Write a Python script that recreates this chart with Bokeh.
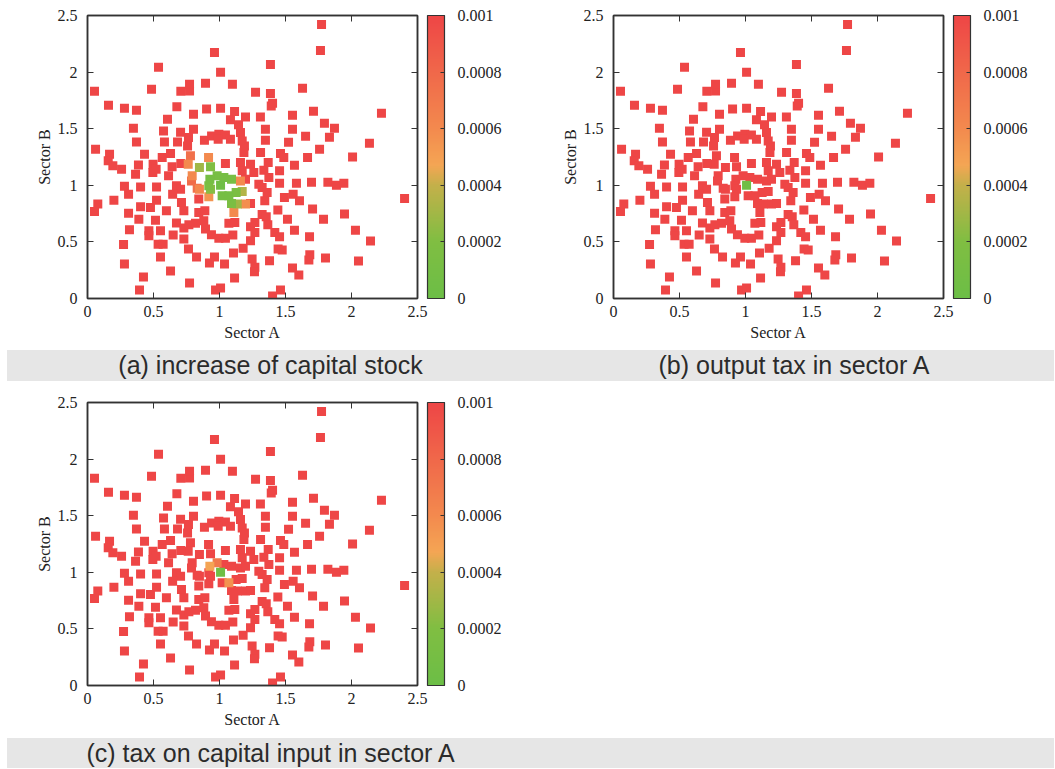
import numpy as np
from bokeh.plotting import figure
from bokeh.models import (LinearColorMapper, ColorBar, FixedTicker, CustomJSTickFormatter,
                          LinearAxis, Range1d, ColumnDataSource, Div)
from bokeh.layouts import column, row
from bokeh.embed import file_html
from bokeh.resources import INLINE

# ---------------- data ----------------
sector_a = [
    0.78, 0.763, 0.917, 0.848, 0.932, 0.793, 0.788, 0.927, 0.982, 1.033,
    1.008, 0.919, 0.932, 0.831, 0.848, 0.919, 1.02, 1.071, 1.091, 1.159,
    1.126, 1.172, 1.091, 1.134, 1.197, 1.109,
    1.773, 1.765, 0.962, 0.538, 1.386, 1.008, 0.053, 0.485, 0.707, 0.773,
    0.773, 0.894, 1.098, 1.273, 1.386, 1.629, 1.392, 1.402, 0.159, 0.28,
    0.371, 0.677, 0.606, 0.803, 0.902, 1.008, 1.114, 1.083, 1.144, 1.197,
    1.31, 1.553, 1.712, 2.227, 1.795, 1.871, 0.348, 0.576, 0.705, 0.803,
    1.348, 1.553, 0.371, 0.583, 0.682, 0.765, 0.758, 0.886, 0.94, 0.995,
    1.045, 1.083, 0.99, 1.159, 1.172, 1.189, 1.185, 1.348, 1.523, 1.652,
    1.833, 1.758, 2.136, 0.061, 0.629, 0.167, 0.157, 0.432, 0.566, 1.159,
    1.235, 1.172, 1.311, 1.462, 1.487, 1.667, 2.008, 0.192, 0.258, 0.386,
    0.364, 0.497, 0.52, 0.495, 0.641, 0.707, 1.045, 1.336, 1.369, 1.455,
    1.568, 0.614, 1.197, 1.26, 1.298, 1.323, 1.374, 1.455, 1.583, 1.697,
    1.821, 1.886, 1.942, 2.402, 0.28, 0.402, 0.523, 0.674, 0.705, 1.235,
    1.361, 1.343, 1.492, 1.558, 1.606, 1.442, 1.705, 1.947, 0.311, 0.2,
    0.078, 0.053, 0.311, 0.402, 0.477, 0.523, 0.598, 0.712, 0.73, 0.843,
    0.843, 0.889, 0.389, 0.515, 0.318, 0.465, 0.465, 0.553, 0.674, 0.649,
    0.73, 0.73, 0.768, 0.818, 0.881, 0.894, 0.939, 0.995, 1.045, 1.071,
    1.116, 1.101, 1.235, 1.268, 1.268, 1.235, 1.323, 1.354, 1.366, 1.419,
    1.455, 1.515, 1.568, 1.682, 1.788, 2.03, 2.144, 0.273, 0.535, 0.573,
    0.765, 1.179, 0.553, 0.826, 0.962, 0.924, 1.038, 1.106, 1.247, 1.268,
    1.265, 1.379, 1.444, 1.475, 1.684, 1.677, 1.803, 2.053, 1.553, 1.601,
    0.28, 0.629, 0.424, 0.773, 1.114, 0.394, 0.97, 1.008, 1.462, 1.402,
    0.645,
]
sector_b = [
    1.26, 1.186, 1.245, 1.157, 1.163, 1.084, 1.039, 1.054, 1.084, 1.069,
    1.001, 0.995, 0.966, 0.975, 0.966, 0.898, 0.907, 0.907, 1.054, 1.039,
    0.936, 0.945, 0.84, 0.834, 0.834, 0.76,
    2.42, 2.19, 2.174, 2.042, 2.068, 1.998, 1.83, 1.848, 1.83, 1.833,
    1.892, 1.901, 1.892, 1.821, 1.812, 1.857, 1.70, 1.725, 1.707, 1.68,
    1.663, 1.693, 1.584, 1.628, 1.675, 1.68, 1.651, 1.578, 1.534, 1.604,
    1.604, 1.619, 1.654, 1.637, 1.549, 1.504, 1.504, 1.48, 1.469, 1.495,
    1.495, 1.495, 1.383, 1.383, 1.383, 1.422, 1.348, 1.398, 1.436, 1.45,
    1.444, 1.407, 1.407, 1.466, 1.392, 1.348, 1.29, 1.398, 1.381, 1.434,
    1.425, 1.319, 1.372, 1.319, 1.28, 1.275, 1.216, 1.275, 1.245, 1.201,
    1.186, 1.128, 1.289, 1.28, 1.245, 1.245, 1.251, 1.172, 1.142, 1.18,
    1.098, 1.186, 1.142, 1.113, 1.163, 1.192, 1.192, 1.133, 1.201, 1.128,
    1.177, 1.084, 1.054, 1.113, 1.01, 0.98, 1.069, 1.019, 1.019, 1.028,
    1.028, 1.001, 1.019, 0.884, 0.992, 0.984, 0.984, 0.995, 0.966, 0.84,
    0.936, 0.863, 0.892, 0.922, 0.863, 0.781, 0.79, 0.746, 0.922, 0.869,
    0.834, 0.769, 0.754, 0.81, 0.804, 0.869, 0.775, 0.848, 0.775, 0.878,
    0.76, 0.775, 0.701, 0.692, 0.607, 0.598, 0.554, 0.598, 0.666, 0.56,
    0.622, 0.525, 0.652, 0.664, 0.686, 0.613, 0.563, 0.533, 0.533, 0.664,
    0.672, 0.56, 0.633, 0.672, 0.584, 0.51, 0.741, 0.722, 0.651, 0.584,
    0.545, 0.701, 0.604, 0.545, 0.701, 0.604, 0.507, 0.477, 0.48, 0.48,
    0.437, 0.445, 0.366, 0.366, 0.366, 0.313, 0.304, 0.401, 0.348, 0.275,
    0.236, 0.334, 0.437, 0.428, 0.387, 0.34, 0.357, 0.331, 0.269, 0.207,
    0.304, 0.242, 0.19, 0.136, 0.181, 0.075, 0.075, 0.092, 0.075, 0.022,
    0.92,
]
inc_capital = [
    0.00075, 0.0006, 0.0006, 0.0003, 0.0002, 0.0006, 0.00078, 0.0001, 0.00012, 0.0001,
    0.00003, 0.00015, 0.00022, 0.00075, 0.00062, 0.00055, 0.0001, 0.0001, 0.00012, 0.0006,
    0.00015, 0.00035, 0.00015, 0.0003, 0.00058, 0.0006,
    0.001, 0.001, 0.001, 0.001, 0.001, 0.001, 0.001, 0.001, 0.001, 0.001,
    0.001, 0.001, 0.001, 0.001, 0.001, 0.001, 0.001, 0.001, 0.001, 0.001,
    0.001, 0.001, 0.001, 0.001, 0.001, 0.001, 0.001, 0.001, 0.001, 0.001,
    0.001, 0.001, 0.001, 0.001, 0.001, 0.001, 0.001, 0.001, 0.001, 0.001,
    0.001, 0.001, 0.001, 0.001, 0.001, 0.001, 0.001, 0.001, 0.001, 0.001,
    0.001, 0.001, 0.001, 0.001, 0.001, 0.001, 0.001, 0.001, 0.001, 0.001,
    0.001, 0.001, 0.001, 0.001, 0.001, 0.001, 0.001, 0.001, 0.001, 0.001,
    0.001, 0.001, 0.001, 0.001, 0.001, 0.001, 0.001, 0.001, 0.001, 0.001,
    0.001, 0.001, 0.001, 0.001, 0.001, 0.001, 0.001, 0.001, 0.001, 0.001,
    0.001, 0.001, 0.001, 0.001, 0.001, 0.001, 0.001, 0.001, 0.001, 0.001,
    0.001, 0.001, 0.001, 0.001, 0.001, 0.001, 0.001, 0.001, 0.001, 0.001,
    0.001, 0.001, 0.001, 0.001, 0.001, 0.001, 0.001, 0.001, 0.001, 0.001,
    0.001, 0.001, 0.001, 0.001, 0.001, 0.001, 0.001, 0.001, 0.001, 0.001,
    0.001, 0.001, 0.001, 0.001, 0.001, 0.001, 0.001, 0.001, 0.001, 0.001,
    0.001, 0.001, 0.001, 0.001, 0.001, 0.001, 0.001, 0.001, 0.001, 0.001,
    0.001, 0.001, 0.001, 0.001, 0.001, 0.001, 0.001, 0.001, 0.001, 0.001,
    0.001, 0.001, 0.001, 0.001, 0.001, 0.001, 0.001, 0.001, 0.001, 0.001,
    0.001, 0.001, 0.001, 0.001, 0.001, 0.001, 0.001, 0.001, 0.001, 0.001,
    0.001, 0.001, 0.001, 0.001, 0.001, 0.001, 0.001, 0.001, 0.001, 0.001,
    0.001, 0.001, 0.001, 0.001, 0.001, 0.001, 0.001, 0.001, 0.001, 0.001,
    0.001,
]
output_tax = [
    0.001, 0.001, 0.001, 0.001, 0.001, 0.001, 0.001, 0.001, 0.001, 0.001,
    0.00003, 0.001, 0.001, 0.001, 0.001, 0.001, 0.001, 0.001, 0.001, 0.001,
    0.001, 0.001, 0.001, 0.001, 0.001, 0.001,
    0.001, 0.001, 0.001, 0.001, 0.001, 0.001, 0.001, 0.001, 0.001, 0.001,
    0.001, 0.001, 0.001, 0.001, 0.001, 0.001, 0.001, 0.001, 0.001, 0.001,
    0.001, 0.001, 0.001, 0.001, 0.001, 0.001, 0.001, 0.001, 0.001, 0.001,
    0.001, 0.001, 0.001, 0.001, 0.001, 0.001, 0.001, 0.001, 0.001, 0.001,
    0.001, 0.001, 0.001, 0.001, 0.001, 0.001, 0.001, 0.001, 0.001, 0.001,
    0.001, 0.001, 0.001, 0.001, 0.001, 0.001, 0.001, 0.001, 0.001, 0.001,
    0.001, 0.001, 0.001, 0.001, 0.001, 0.001, 0.001, 0.001, 0.001, 0.001,
    0.001, 0.001, 0.001, 0.001, 0.001, 0.001, 0.001, 0.001, 0.001, 0.001,
    0.001, 0.001, 0.001, 0.001, 0.001, 0.001, 0.001, 0.001, 0.001, 0.001,
    0.001, 0.001, 0.001, 0.001, 0.001, 0.001, 0.001, 0.001, 0.001, 0.001,
    0.001, 0.001, 0.001, 0.001, 0.001, 0.001, 0.001, 0.001, 0.001, 0.001,
    0.001, 0.001, 0.001, 0.001, 0.001, 0.001, 0.001, 0.001, 0.001, 0.001,
    0.001, 0.001, 0.001, 0.001, 0.001, 0.001, 0.001, 0.001, 0.001, 0.001,
    0.001, 0.001, 0.001, 0.001, 0.001, 0.001, 0.001, 0.001, 0.001, 0.001,
    0.001, 0.001, 0.001, 0.001, 0.001, 0.001, 0.001, 0.001, 0.001, 0.001,
    0.001, 0.001, 0.001, 0.001, 0.001, 0.001, 0.001, 0.001, 0.001, 0.001,
    0.001, 0.001, 0.001, 0.001, 0.001, 0.001, 0.001, 0.001, 0.001, 0.001,
    0.001, 0.001, 0.001, 0.001, 0.001, 0.001, 0.001, 0.001, 0.001, 0.001,
    0.001, 0.001, 0.001, 0.001, 0.001, 0.001, 0.001, 0.001, 0.001, 0.001,
    0.001, 0.001, 0.001, 0.001, 0.001, 0.001, 0.001, 0.001, 0.001, 0.001,
    0.001,
]
capital_tax = [
    0.001, 0.001, 0.001, 0.001, 0.001, 0.001, 0.001, 0.00048, 0.0007, 0.001,
    0.00003, 0.001, 0.001, 0.001, 0.001, 0.001, 0.001, 0.00056, 0.001, 0.001,
    0.001, 0.001, 0.001, 0.001, 0.001, 0.001,
    0.001, 0.001, 0.001, 0.001, 0.001, 0.001, 0.001, 0.001, 0.001, 0.001,
    0.001, 0.001, 0.001, 0.001, 0.001, 0.001, 0.001, 0.001, 0.001, 0.001,
    0.001, 0.001, 0.001, 0.001, 0.001, 0.001, 0.001, 0.001, 0.001, 0.001,
    0.001, 0.001, 0.001, 0.001, 0.001, 0.001, 0.001, 0.001, 0.001, 0.001,
    0.001, 0.001, 0.001, 0.001, 0.001, 0.001, 0.001, 0.001, 0.001, 0.001,
    0.001, 0.001, 0.001, 0.001, 0.001, 0.001, 0.001, 0.001, 0.001, 0.001,
    0.001, 0.001, 0.001, 0.001, 0.001, 0.001, 0.001, 0.001, 0.001, 0.001,
    0.001, 0.001, 0.001, 0.001, 0.001, 0.001, 0.001, 0.001, 0.001, 0.001,
    0.001, 0.001, 0.001, 0.001, 0.001, 0.001, 0.001, 0.001, 0.001, 0.001,
    0.001, 0.001, 0.001, 0.001, 0.001, 0.001, 0.001, 0.001, 0.001, 0.001,
    0.001, 0.001, 0.001, 0.001, 0.001, 0.001, 0.001, 0.001, 0.001, 0.001,
    0.001, 0.001, 0.001, 0.001, 0.001, 0.001, 0.001, 0.001, 0.001, 0.001,
    0.001, 0.001, 0.001, 0.001, 0.001, 0.001, 0.001, 0.001, 0.001, 0.001,
    0.001, 0.001, 0.001, 0.001, 0.001, 0.001, 0.001, 0.001, 0.001, 0.001,
    0.001, 0.001, 0.001, 0.001, 0.001, 0.001, 0.001, 0.001, 0.001, 0.001,
    0.001, 0.001, 0.001, 0.001, 0.001, 0.001, 0.001, 0.001, 0.001, 0.001,
    0.001, 0.001, 0.001, 0.001, 0.001, 0.001, 0.001, 0.001, 0.001, 0.001,
    0.001, 0.001, 0.001, 0.001, 0.001, 0.001, 0.001, 0.001, 0.001, 0.001,
    0.001, 0.001, 0.001, 0.001, 0.001, 0.001, 0.001, 0.001, 0.001, 0.001,
    0.001, 0.001, 0.001, 0.001, 0.001, 0.001, 0.001, 0.001, 0.001, 0.001,
    0.001,
]
captions = ["(a) increase of capital stock", "(b) output tax in sector A",
            "(c) tax on capital input in sector A"]
axis_ticks = [0, 0.5, 1, 1.5, 2, 2.5]
cbar_ticks = [0, 0.0002, 0.0004, 0.0006, 0.0008, 0.001]
x_label = "Sector A"
y_label = "Sector B"

# ---------------- styling ----------------
stops_pos = [0.0, 0.2, 0.4, 0.47, 0.6, 0.8, 1.0]
stops_rgb = [(108, 190, 70), (128, 190, 66), (196, 176, 74), (244, 166, 84),
             (243, 138, 78), (240, 104, 74), (238, 70, 70)]
t = np.linspace(0, 1, 256)
chan = [np.interp(t, stops_pos, [c[i] for c in stops_rgb]) for i in range(3)]
palette = ["#%02x%02x%02x" % (int(round(r)), int(round(g)), int(round(b)))
           for r, g, b in zip(*chan)]
mapper = LinearColorMapper(palette=palette, low=0, high=0.001)

SERIF = "Liberation Serif"
AX = "#333333"
fmt_code = "return String(Number(tick.toPrecision(6)));"


def make_panel(values, left, right, top, bottom):
    p = figure(output_backend="svg", toolbar_location=None,
               frame_width=330, frame_height=283,
               min_border_left=left, min_border_right=right,
               min_border_top=top, min_border_bottom=bottom,
               x_range=Range1d(0, 2.5), y_range=Range1d(0, 2.5),
               background_fill_color="white", border_fill_color="white")
    p.grid.visible = False
    p.outline_line_color = AX
    p.outline_line_width = 1.5
    for ax, lab in ((p.xaxis[0], x_label), (p.yaxis[0], y_label)):
        ax.ticker = FixedTicker(ticks=axis_ticks)
        ax.formatter = CustomJSTickFormatter(code=fmt_code)
        ax.major_tick_in = 6
        ax.major_tick_out = 0
        ax.minor_tick_line_color = None
        ax.major_tick_line_color = AX
        ax.axis_line_color = AX
        ax.axis_line_width = 1.5
        ax.major_label_text_font = SERIF
        ax.major_label_text_font_size = "16px"
        ax.major_label_text_color = "#222222"
        ax.axis_label = lab
        ax.axis_label_text_font = SERIF
        ax.axis_label_text_font_size = "16px"
        ax.axis_label_text_font_style = "normal"
        ax.axis_label_text_color = "#222222"
    p.xaxis.major_label_standoff = 7
    p.xaxis.axis_label_standoff = 4
    p.yaxis.major_label_standoff = 10
    p.yaxis.axis_label_standoff = 2

    for side in ("above", "right"):
        m = LinearAxis(ticker=FixedTicker(ticks=axis_ticks),
                       formatter=CustomJSTickFormatter(code="return '';"),
                       major_tick_in=6, major_tick_out=0,
                       minor_tick_line_color=None, major_tick_line_color=AX,
                       axis_line_color=AX, axis_line_width=1.5,
                       major_label_standoff=0,
                       major_label_text_font_size="1px")
        if side == "right":
            # blank axis label only used to keep a small gap before the colour bar
            m.axis_label = " "
            m.axis_label_text_font_size = "7px"
            m.axis_label_standoff = 0
        p.add_layout(m, side)

    cb = ColorBar(color_mapper=mapper, width=17, margin=0, padding=0,
                  ticker=FixedTicker(ticks=cbar_ticks),
                  formatter=CustomJSTickFormatter(code=fmt_code),
                  major_label_text_font=SERIF, major_label_text_font_size="16px",
                  major_label_text_color="#222222",
                  major_tick_line_color=AX, major_tick_in=4, major_tick_out=0,
                  minor_tick_line_color=None,
                  bar_line_color=AX, bar_line_width=1.2,
                  label_standoff=13, border_line_color=None,
                  background_fill_color=None)
    p.add_layout(cb, "right")

    order = np.argsort(-np.asarray(values), kind="stable")
    src = ColumnDataSource(dict(
        x=[sector_a[i] for i in order],
        y=[sector_b[i] for i in order],
        v=[values[i] for i in order]))
    p.scatter("x", "y", source=src, marker="square", size=9,
              fill_color={"field": "v", "transform": mapper},
              line_color=None)
    return p


def band(text, w, h, left=0):
    return Div(text=text, width=w, height=h, margin=(0, 0, 0, left),
               styles={"background-color": "#e6e6e6",
                       "font-family": "Liberation Sans, Arial, sans-serif",
                       "font-size": "25px", "color": "#2b2b2b",
                       "text-align": "center", "line-height": "%dpx" % h,
                       "overflow": "hidden", "white-space": "nowrap"})


pa = make_panel(inc_capital, 87, 117, 15, 52)
pb = make_panel(output_tax, 79, 111, 15, 52)
pc = make_panel(capital_tax, 87, 117, 21, 53)

layout = column(
    row(pa, pb),
    row(band(captions[0], 527, 31, 7), band(captions[1], 520, 31)),
    row(pc),
    row(band(captions[2], 527, 30, 7), band("", 520, 30)),
)

open("out.html", "w").write(file_html(layout, INLINE))
